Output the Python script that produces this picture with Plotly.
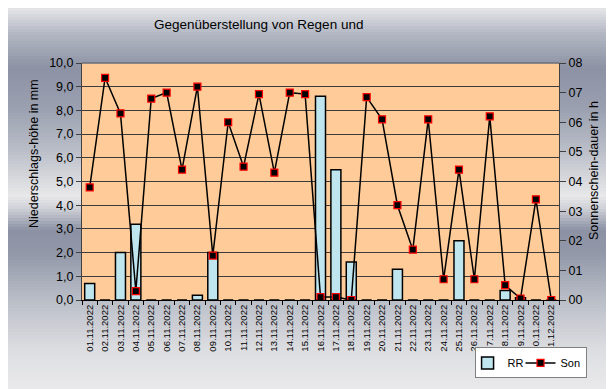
import plotly.graph_objects as go

dates = ["01.11.2022", "02.11.2022", "03.11.2022", "04.11.2022", "05.11.2022", "06.11.2022",
         "07.11.2022", "08.11.2022", "09.11.2022", "10.11.2022", "11.11.2022", "12.11.2022",
         "13.11.2022", "14.11.2022", "15.11.2022", "16.11.2022", "17.11.2022", "18.11.2022",
         "19.11.2022", "20.11.2022", "21.11.2022", "22.11.2022", "23.11.2022", "24.11.2022",
         "25.11.2022", "26.11.2022", "27.11.2022", "28.11.2022", "29.11.2022", "30.11.2022",
         "01.12.2022"]
rr = [0.7, 0.0, 2.0, 3.2, 0.0, 0.0, 0.0, 0.2, 2.0, 0.0, 0.0, 0.0, 0.0, 0.0, 0.0, 8.6,
      5.5, 1.6, 0.0, 0.0, 1.3, 0.0, 0.0, 0.0, 2.5, 0.0, 0.0, 0.4, 0.1, 0.0, 0.0]
son = [3.8, 7.5, 6.3, 0.3, 6.8, 7.0, 4.4, 7.2, 1.5, 6.0, 4.5, 6.95, 4.3, 7.0, 6.95, 0.1,
       0.1, 0.0, 6.85, 6.1, 3.2, 1.7, 6.1, 0.7, 4.4, 0.7, 6.2, 0.5, 0.05, 3.4, 0.0]
left_ticks = [0, 1, 2, 3, 4, 5, 6, 7, 8, 9, 10]
right_ticks = [0, 1, 2, 3, 4, 5, 6, 7, 8]
right_ticktext = ["00", "01", "02", "03", "04", "05", "06", "07", "08"]

W, H = 614, 389
L, R, T, B = 74, 63, 55, 97
FONT = "Liberation Sans, Arial, sans-serif"

fig = go.Figure()
fig.add_trace(go.Bar(
    x=dates, y=rr, name="RR", yaxis="y",
    marker=dict(color="#bfe6ef", line=dict(color="#000000", width=1.5)),
))
fig.add_trace(go.Scatter(
    x=dates, y=son, name="Son", yaxis="y2", mode="lines+markers",
    line=dict(color="#000000", width=1.5),
    marker=dict(symbol="square", size=7, color="#000000", line=dict(color="#ff0000", width=1.2)),
))

# background gradient (chart area)
stops = [(0, (230, 230, 232)), (25, (180, 184, 196)), (60, (140, 146, 164)), (100, (154, 160, 176)),
         (140, (184, 188, 198)), (188, (232, 232, 234)), (200, (208, 210, 216)), (222, (140, 146, 164)),
         (245, (146, 152, 168)), (290, (184, 188, 198)), (340, (220, 221, 224)), (389, (236, 236, 238))]

def col_at(y):
    for (y0, c0), (y1, c1) in zip(stops[:-1], stops[1:]):
        if y0 <= y <= y1:
            f = (y - y0) / (y1 - y0)
            return "rgb(%d,%d,%d)" % tuple(round(a + (b - a) * f) for a, b in zip(c0, c1))
    return "rgb(236,236,238)"

shapes = []
step = 3
for yy in range(0, H, step):
    y0p = 1 + (T - yy) / (H - T - B)
    y1p = 1 + (T - yy - step) / (H - T - B)
    shapes.append(dict(type="rect", xref="paper", yref="paper", x0=-L / (W - L - R) - 0.01,
                       x1=1 + R / (W - L - R) + 0.01, y0=y1p - 0.002, y1=y0p,
                       fillcolor=col_at(yy + step / 2), line=dict(width=0), layer="below"))
shapes.append(dict(type="rect", xref="x domain", yref="y domain", x0=0, x1=1, y0=0, y1=1,
                   fillcolor="#ffcc99", line=dict(width=0), layer="below"))
shapes.append(dict(type="line", xref="x domain", yref="y domain", x0=0, x1=1, y0=1, y1=1,
                   line=dict(color="#6a6e7a", width=1.5), layer="above"))

fig.update_layout(
    width=W, height=H,
    margin=dict(l=L, r=R, t=T, b=B),
    paper_bgcolor="#e6e6e8", plot_bgcolor="rgba(0,0,0,0)",
    font=dict(family=FONT, size=12, color="#000000"),
    separators=",.",
    bargap=0.35,
    showlegend=True,
    legend=dict(orientation="h", x=0.823, y=-0.2, xanchor="left", yanchor="top",
                bgcolor="#ffffff", bordercolor="#808080", borderwidth=1,
                font=dict(size=11, family=FONT), tracegroupgap=0, indentation=-8),
    xaxis=dict(type="category", tickangle=-90, tickfont=dict(size=9.5, family=FONT),
               ticks="outside", tickson="boundaries", ticklen=4, tickcolor="#000000",
               showline=True, linecolor="#000000", linewidth=1, showgrid=False,
               range=[-0.5, len(dates) - 0.5]),
    yaxis=dict(range=[0, 10], tickvals=left_ticks, tickformat=".1f",
               ticks="outside", ticklen=5, tickcolor="#404040",
               showline=True, linecolor="#404040", linewidth=1,
               showgrid=True, gridcolor="#3c3c3c", gridwidth=1, zeroline=False,
               tickfont=dict(size=12.5, family=FONT)),
    yaxis2=dict(range=[0, 8], tickvals=right_ticks, ticktext=right_ticktext, overlaying="y",
                side="right", ticks="outside", ticklen=6, tickcolor="#404040",
                showline=True, linecolor="#404040", linewidth=1, showgrid=False, zeroline=False,
                tickfont=dict(size=12.5, family=FONT)),
    shapes=shapes,
    annotations=[
        dict(text="Gegenüberstellung von Regen und", xref="paper", yref="paper",
             x=(250 - L) / (W - L - R), y=1 + (T - 17) / (H - T - B), showarrow=False,
             xanchor="center", yanchor="middle", font=dict(size=13.5, family=FONT)),
        dict(text="Niederschlags-höhe in mm", xref="paper", yref="paper",
             x=(26 - L) / (W - L - R), y=1 + (T - 146) / (H - T - B), showarrow=False,
             textangle=-90, xanchor="center", yanchor="middle", font=dict(size=12.5, family=FONT)),
        dict(text="Sonnenschein-dauer in h", xref="paper", yref="paper",
             x=(586 - L) / (W - L - R), y=1 + (T - 163) / (H - T - B), showarrow=False,
             textangle=-90, xanchor="center", yanchor="middle", font=dict(size=12.5, family=FONT)),
    ],
)

fig.write_html("out.html")
